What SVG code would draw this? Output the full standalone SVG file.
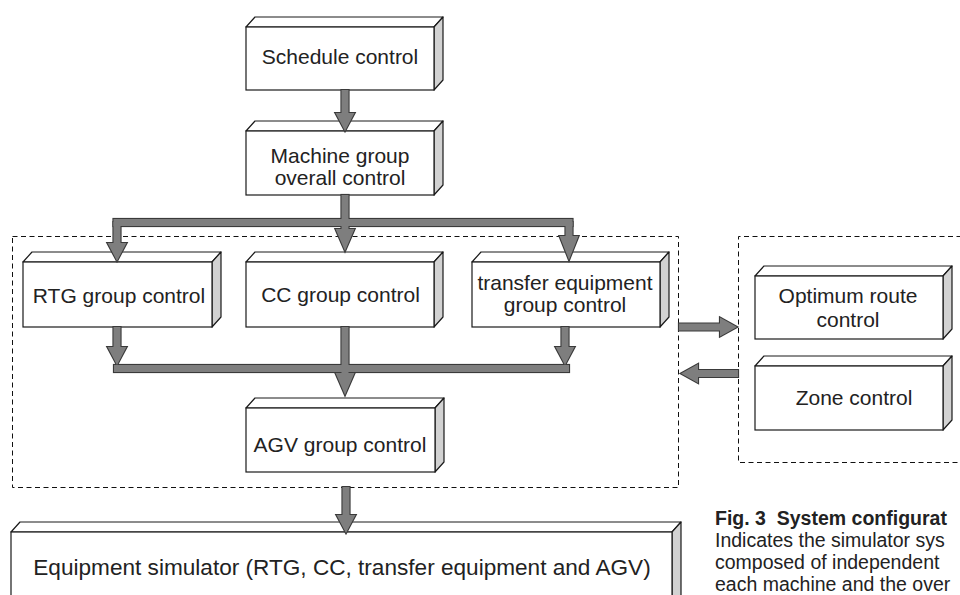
<svg xmlns="http://www.w3.org/2000/svg" xmlns:xlink="http://www.w3.org/1999/xlink" width="960" height="595" viewBox="0 0 960 595">
<style>
.front{fill:#fff;stroke:#1a1a1a;stroke-width:1.2}
.top{fill:#fff;stroke:#1a1a1a;stroke-width:1.2;stroke-linejoin:round}
.side{fill:#d2d2d2;stroke:#1a1a1a;stroke-width:1.2;stroke-linejoin:round}
.lbl{font-family:"Liberation Sans",Arial,Helvetica,sans-serif;font-size:21px;fill:#222;text-anchor:middle}
.cap{font-family:"Liberation Sans",Arial,Helvetica,sans-serif;font-size:19.5px;fill:#222}
.dash{fill:none;stroke:#111;stroke-width:1;stroke-dasharray:5,3.5}
</style>
<defs>
<g id="connShapes">
<polygon points="341.5,90 348.5,90 348.5,113 354.5,113 345,131 335.5,113 341.5,113"/>
<rect x="341.5" y="195" width="7" height="27"/>
<rect x="113.5" y="219" width="459" height="7"/>
<polygon points="113.5,222 120.5,222 120.5,243 126.5,243 117,261 107.5,243 113.5,243"/>
<polygon points="341.5,222 348.5,222 348.5,229 354.5,229 345,251 335.5,229 341.5,229"/>
<polygon points="565.5,222 572.5,222 572.5,236 578.5,236 569,260 559.5,236 565.5,236"/>
<polygon points="113.5,327 120.5,327 120.5,347 126.5,347 117,365 107.5,347 113.5,347"/>
<polygon points="561.5,327 568.5,327 568.5,347 574.5,347 565,365 555.5,347 561.5,347"/>
<rect x="114" y="365" width="455" height="7"/>
<polygon points="341.5,327 348.5,327 348.5,373 354.5,373 345,395 335.5,373 341.5,373"/>
<polygon points="342.5,487 349.5,487 349.5,515 355.5,515 346,533 336.5,515 342.5,515"/>
<polygon points="679,323.5 720,323.5 720,317.5 737,327 720,336.5 720,330.5 679,330.5"/>
<polygon points="738,370 698,370 698,364 681,373.5 698,383 698,377 738,377"/>
</g>
</defs>

<g id="groups">
<rect class="dash" x="12.5" y="236.5" width="666" height="251"/>
<path class="dash" d="M970,236.5 H738.5 V462.5 H970"/>
</g>

<g id="node-schedule">
<path class="top" d="M246,27 L255,17 L443,17 L434,27 Z"/>
<path class="side" d="M434,27 L443,17 L443,80 L434,90 Z"/>
<rect class="front" x="246" y="27" width="188" height="63"/>
<text class="lbl" x="340" y="64">Schedule control</text>
</g>

<g id="node-machine">
<path class="top" d="M246,131 L255,121 L443,121 L434,131 Z"/>
<path class="side" d="M434,131 L443,121 L443,185 L434,195 Z"/>
<rect class="front" x="246" y="131" width="188" height="64"/>
<text class="lbl" x="340" y="163">Machine group</text>
<text class="lbl" x="340" y="185">overall control</text>
</g>

<g id="node-rtg">
<path class="top" d="M23,262 L32,252 L221,252 L212,262 Z"/>
<path class="side" d="M212,262 L221,252 L221,317 L212,327 Z"/>
<rect class="front" x="23" y="262" width="189" height="65"/>
<text class="lbl" x="119" y="303">RTG group control</text>
</g>

<g id="node-cc">
<path class="top" d="M246,262 L255,252 L443,252 L434,262 Z"/>
<path class="side" d="M434,262 L443,252 L443,317 L434,327 Z"/>
<rect class="front" x="246" y="262" width="188" height="65"/>
<text class="lbl" x="340.5" y="302">CC group control</text>
</g>

<g id="node-transfer">
<path class="top" d="M472,262 L481,252 L669,252 L660,262 Z"/>
<path class="side" d="M660,262 L669,252 L669,317 L660,327 Z"/>
<rect class="front" x="472" y="262" width="188" height="65"/>
<text class="lbl" x="565" y="290">transfer equipment</text>
<text class="lbl" x="565" y="312">group control</text>
</g>

<g id="node-agv">
<path class="top" d="M246,408 L255,398 L444,398 L435,408 Z"/>
<path class="side" d="M435,408 L444,398 L444,462 L435,472 Z"/>
<rect class="front" x="246" y="408" width="189" height="64"/>
<text class="lbl" x="340" y="452">AGV group control</text>
</g>

<g id="node-optimum">
<path class="top" d="M755,276 L764,266 L952,266 L943,276 Z"/>
<path class="side" d="M943,276 L952,266 L952,329 L943,339 Z"/>
<rect class="front" x="755" y="276" width="188" height="63"/>
<text class="lbl" x="848" y="303">Optimum route</text>
<text class="lbl" x="848" y="327">control</text>
</g>

<g id="node-zone">
<path class="top" d="M755,366 L764,356 L952,356 L943,366 Z"/>
<path class="side" d="M943,366 L952,356 L952,420 L943,430 Z"/>
<rect class="front" x="755" y="366" width="188" height="64"/>
<text class="lbl" x="854" y="405">Zone control</text>
</g>

<g id="node-equipment">
<path class="top" d="M11,532 L20,522 L681,522 L672,532 Z"/>
<path class="side" d="M672,532 L681,522 L681,610 L672,620 Z"/>
<rect class="front" x="11" y="532" width="661" height="88"/>
<text class="lbl" x="342" y="575" style="font-size:22.6px">Equipment simulator (RTG, CC, transfer equipment and AGV)</text>
</g>

<g id="connectors">
<use xlink:href="#connShapes" href="#connShapes" fill="#7e7e7e" stroke="#3a3a3a" stroke-width="2.2" stroke-linejoin="miter"/>
<use xlink:href="#connShapes" href="#connShapes" fill="#7e7e7e" stroke="none"/>
</g>

<g id="caption">
<text class="cap" x="715" y="525" font-weight="bold" xml:space="preserve">Fig. 3  System configurat</text>
<text class="cap" x="715" y="547">Indicates the simulator sys</text>
<text class="cap" x="715" y="569">composed of independent</text>
<text class="cap" x="715" y="590.5">each machine and the over</text>
</g>
</svg>
